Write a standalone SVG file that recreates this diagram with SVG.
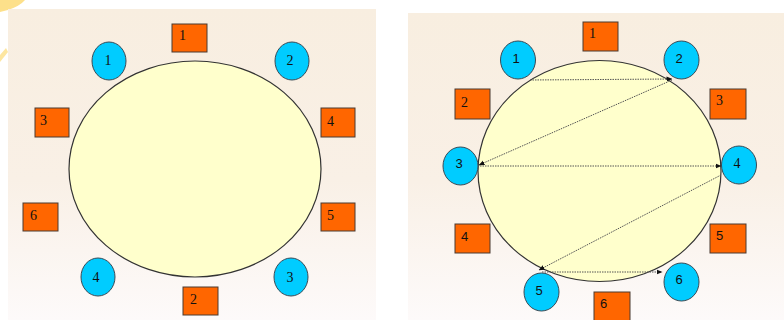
<svg xmlns="http://www.w3.org/2000/svg" width="784" height="320" viewBox="0 0 784 320">
<defs>
<linearGradient id="bg" x1="0" y1="0" x2="0" y2="1">
<stop offset="0" stop-color="#f8eee0"/>
<stop offset="0.55" stop-color="#f9f0e6"/>
<stop offset="1" stop-color="#fdfafa"/>
</linearGradient>
<marker id="ah" markerWidth="6" markerHeight="6" refX="5.5" refY="3" orient="auto" markerUnits="userSpaceOnUse">
<path d="M0,0.5 L6,3 L0,5.5 Z" fill="#111"/>
</marker>
<style>
.sq{fill:#ff6600;stroke:#4a3a30;stroke-width:1}
.ci{fill:#00ccff;stroke:#3a4a55;stroke-width:1}
.tab{fill:#ffffcc;stroke:#333;stroke-width:1.2}
.lt{font-family:"Liberation Serif",serif;font-size:14px;fill:#111}
.rt{font-family:"Liberation Sans",sans-serif;font-size:13px;fill:#111}
.ct{text-anchor:middle}
.ln{fill:none;stroke:#555;stroke-width:1;stroke-dasharray:1.5,1}
</style>
</defs>
<rect x="0" y="0" width="784" height="320" fill="#ffffff"/>
<path d="M0,0 L25,0 Q20,6 8,10 L0,12 Z" fill="#fde08a"/>
<path d="M0,55 L6,48 L8,52 L0,62 Z" fill="#fde6a0"/>
<rect x="8" y="9" width="368" height="311" fill="url(#bg)"/>
<rect x="408" y="13" width="376" height="307" fill="url(#bg)"/>

<g id="left-table"><ellipse class="tab" cx="195" cy="169" rx="126" ry="108"/></g>
<g id="left-seat-1"><rect class="sq" x="172" y="24" width="35" height="28"/><text class="lt" x="179" y="40">1</text></g>
<g id="left-seat-2"><rect class="sq" x="183" y="287" width="35" height="28"/><text class="lt" x="190" y="304">2</text></g>
<g id="left-seat-3"><rect class="sq" x="35" y="108" width="34" height="29"/><text class="lt" x="40" y="125">3</text></g>
<g id="left-seat-4"><rect class="sq" x="321" y="108" width="34" height="29"/><text class="lt" x="327" y="126">4</text></g>
<g id="left-seat-5"><rect class="sq" x="321" y="203" width="34" height="28"/><text class="lt" x="327" y="220">5</text></g>
<g id="left-seat-6"><rect class="sq" x="23" y="203" width="35" height="28"/><text class="lt" x="30" y="220">6</text></g>
<g id="left-chair-1"><ellipse class="ci" cx="109" cy="61" rx="17" ry="19"/><text class="lt ct" x="108" y="65">1</text></g>
<g id="left-chair-2"><ellipse class="ci" cx="292" cy="61" rx="17" ry="19"/><text class="lt ct" x="290" y="65">2</text></g>
<g id="left-chair-3"><ellipse class="ci" cx="291" cy="277" rx="17" ry="19"/><text class="lt ct" x="290" y="282">3</text></g>
<g id="left-chair-4"><ellipse class="ci" cx="98" cy="277" rx="17" ry="19"/><text class="lt ct" x="96" y="282">4</text></g>

<g id="right-table"><ellipse class="tab" cx="599.5" cy="171" rx="121.5" ry="110.5"/></g>
<g id="right-seat-1"><rect class="sq" x="583" y="22" width="35" height="29"/><text class="lt" x="589" y="38">1</text></g>
<g id="right-seat-2"><rect class="sq" x="455" y="89" width="35" height="30"/><text class="lt" x="461" y="107">2</text></g>
<g id="right-seat-3"><rect class="sq" x="710" y="89" width="36" height="30"/><text class="lt" x="716" y="105">3</text></g>
<g id="right-seat-4"><rect class="sq" x="455" y="224" width="35" height="29"/><text class="rt" x="461" y="241">4</text></g>
<g id="right-seat-5"><rect class="sq" x="710" y="224" width="36" height="29"/><text class="rt" x="716" y="240">5</text></g>
<g id="right-seat-6"><rect class="sq" x="594" y="292" width="36" height="30"/><text class="rt" x="600" y="308">6</text></g>
<g id="right-chair-1"><ellipse class="ci" cx="518" cy="60" rx="17.5" ry="19"/><text class="rt ct" x="516" y="63">1</text></g>
<g id="right-chair-2"><ellipse class="ci" cx="681.5" cy="60" rx="17.5" ry="19"/><text class="rt ct" x="679" y="63">2</text></g>
<g id="right-chair-3"><ellipse class="ci" cx="460.5" cy="166" rx="17.5" ry="19"/><text class="rt ct" x="459" y="168">3</text></g>
<g id="right-chair-4"><ellipse class="ci" cx="739" cy="165" rx="17.5" ry="19"/><text class="lt ct" x="737" y="168">4</text></g>
<g id="right-chair-5"><ellipse class="ci" cx="541.5" cy="292" rx="17.5" ry="19"/><text class="rt ct" x="539" y="295">5</text></g>
<g id="right-chair-6"><ellipse class="ci" cx="681.5" cy="282" rx="17.5" ry="19"/><text class="rt ct" x="679" y="284">6</text></g>

<g id="connectors">
<line class="ln" x1="530" y1="80" x2="672" y2="79" marker-end="url(#ah)"/>
<line class="ln" x1="672" y1="80" x2="479" y2="165" marker-end="url(#ah)"/>
<line class="ln" x1="480" y1="166" x2="721" y2="166" marker-end="url(#ah)"/>
<line class="ln" x1="721" y1="175" x2="539" y2="270" marker-end="url(#ah)"/>
<line class="ln" x1="542" y1="272" x2="662" y2="272" marker-end="url(#ah)"/>
</g>
</svg>
